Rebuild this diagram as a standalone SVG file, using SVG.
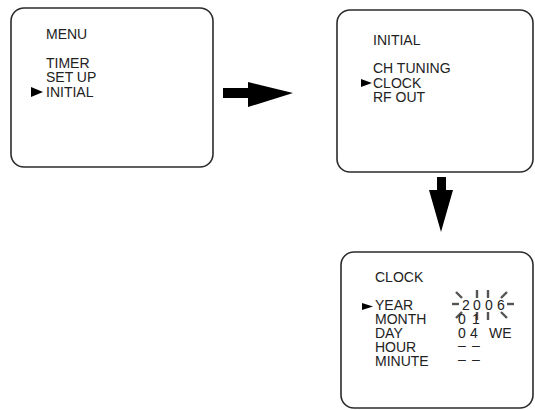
<svg xmlns="http://www.w3.org/2000/svg" width="535" height="410" viewBox="0 0 535 410">
<style>
.box{fill:#fff;stroke:#2b2b2b;stroke-width:1.6}
.t{font-family:"Liberation Sans",Arial,sans-serif;font-size:14px;fill:#222}
.ray{stroke:#555;stroke-width:2.4;stroke-linecap:butt}
.arr{fill:#000}
</style>
<rect width="535" height="410" fill="#fff"/>
<g id="menu">
<rect class="box" x="11" y="8" width="202" height="159" rx="13"/>
<text class="t" x="46" y="39">MENU</text>
<text class="t" x="46" y="68">TIMER</text>
<text class="t" x="46" y="82">SET UP</text>
<text class="t" x="46" y="97">INITIAL</text>
<polygon class="arr" points="31,87 43,92 31,97" fill="#222"/>
</g>
<g id="initial">
<rect class="box" x="337" y="10" width="196" height="162" rx="13"/>
<text class="t" x="373" y="45">INITIAL</text>
<text class="t" x="373" y="73">CH TUNING</text>
<text class="t" x="373" y="88">CLOCK</text>
<text class="t" x="373" y="102">RF OUT</text>
<polygon class="arr" points="361,79 372,83 361,87"/>
</g>
<g id="clock">
<rect class="box" x="341" y="252" width="192" height="156" rx="13"/>
<text class="t" x="375" y="282">CLOCK</text>
<text class="t" x="375" y="310">YEAR</text>
<text class="t" x="375" y="324">MONTH</text>
<text class="t" x="375" y="338">DAY</text>
<text class="t" x="375" y="352">HOUR</text>
<text class="t" x="375" y="366">MINUTE</text>
<polygon class="arr" points="362,303 373,306.5 362,310"/>
<text class="t" x="462" y="310">2</text>
<text class="t" x="473" y="310">0</text>
<text class="t" x="485" y="310">0</text>
<text class="t" x="497" y="310">6</text>
<g>
<line class="ray" x1="452" y1="304" x2="459" y2="304"/>
<line class="ray" x1="507" y1="304" x2="514" y2="304"/>
<line class="ray" x1="456" y1="292" x2="462" y2="298"/>
<line class="ray" x1="477" y1="290" x2="477" y2="298"/>
<line class="ray" x1="488" y1="290" x2="488" y2="298"/>
<line class="ray" x1="507" y1="292" x2="501" y2="298"/>
<line class="ray" x1="462" y1="312" x2="456" y2="318"/>
<line class="ray" x1="477" y1="312" x2="477" y2="320"/>
<line class="ray" x1="488" y1="312" x2="488" y2="320"/>
<line class="ray" x1="501" y1="312" x2="507" y2="318"/>
</g>
<text class="t" x="458" y="324">0</text>
<text class="t" x="472" y="324">1</text>
<text class="t" x="458" y="338">0</text>
<text class="t" x="470" y="338">4</text>
<text class="t" x="489" y="338">WE</text>
<text class="t" x="458" y="350">–</text>
<text class="t" x="472" y="350">–</text>
<text class="t" x="458" y="364">–</text>
<text class="t" x="472" y="364">–</text>
</g>
<g id="connectors">
<polygon class="arr" points="223,88 248,88 248,82 293,93 248,107 248,98 223,98"/>
<polygon class="arr" points="437,177 446,177 446,190 453,190 441,232 429,190 437,190"/>
</g>
</svg>
